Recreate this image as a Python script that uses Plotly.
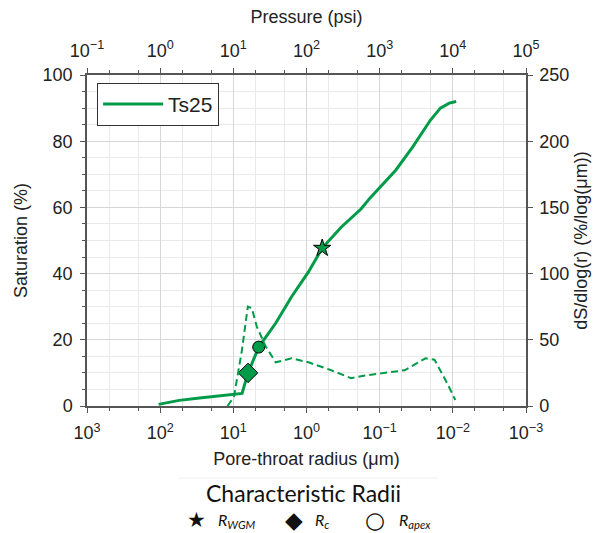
import plotly.graph_objects as go

# ---- data ----
sat_radius = [105, 55, 29, 7.6, 6.3, 4.5, 2.64, 1.6, 0.94, 0.61, 0.336, 0.18, 0.136,
              0.085, 0.06, 0.0355, 0.0202, 0.0148, 0.0112, 0.009]
saturation = [0.5, 1.7, 2.4, 3.8, 10, 17.8, 25, 33, 40.5, 47.7, 54, 59.5, 62.8,
              67.7, 71.3, 78.2, 86.4, 90, 91.5, 92]

dist_radius = [12.0, 9.8, 7.64, 6.34, 5.6, 4.78, 3.61, 2.64, 1.6, 0.94, 0.459, 0.246,
               0.159, 0.085, 0.0455, 0.0377, 0.0236, 0.0178, 0.0119, 0.00925]
dsdlogr = [0, 7, 42, 75, 74, 60, 45, 33, 36, 33, 27, 21, 23, 25, 27, 29.5, 36, 35, 17, 4.5]

r_wgm, s_wgm = 0.61, 47.7
r_c, s_c = 6.3, 10.0
r_apex, s_apex = 4.5, 17.8

radius_exponents = [3, 2, 1, 0, -1, -2, -3]
pressure_exponents = [-1, 0, 1, 2, 3, 4, 5]

PSI_FACTOR = 100.0  # pressure (psi) = 100 / radius (um), matching the two axes
pressure = [PSI_FACTOR / r for r in sat_radius]


def pow_label(e):
    s = str(e).replace("-", "−")
    return "10<sup>%s</sup>" % s


GREEN = "#009b48"
FONT = "Liberation Sans"
AX = "#555555"
GRID = "#d6d6d6"
MINOR = "#e9e9e9"

fig = go.Figure()
fig.add_trace(go.Scatter(x=sat_radius, y=saturation, mode="lines", name="Ts25",
                         line=dict(color=GREEN, width=3), xaxis="x", yaxis="y"))
fig.add_trace(go.Scatter(x=dist_radius, y=dsdlogr, mode="lines", showlegend=False,
                         line=dict(color=GREEN, width=2, dash="7px,4px"), xaxis="x", yaxis="y2"))
fig.add_trace(go.Scatter(x=[r_wgm], y=[s_wgm], mode="markers", showlegend=False,
                         marker=dict(symbol="star", size=13, color=GREEN,
                                     line=dict(color="black", width=1))))
fig.add_trace(go.Scatter(x=[r_c], y=[s_c], mode="markers", showlegend=False,
                         marker=dict(symbol="diamond", size=15, color=GREEN,
                                     line=dict(color="black", width=1))))
fig.add_trace(go.Scatter(x=[r_apex], y=[s_apex], mode="markers", showlegend=False,
                         marker=dict(symbol="circle", size=12, color=GREEN,
                                     line=dict(color="black", width=1))))
# invisible trace to drive the pressure axis
fig.add_trace(go.Scatter(x=pressure, y=saturation, mode="lines", showlegend=False,
                         line=dict(width=0, color="rgba(0,0,0,0)"), hoverinfo="skip",
                         xaxis="x2", yaxis="y"))

tickfont = dict(family=FONT, size=18, color="#222")
titlefont = dict(family=FONT, size=18, color="#222")

fig.update_layout(
    width=600, height=533,
    margin=dict(l=87, r=71, t=75, b=127),
    paper_bgcolor="white", plot_bgcolor="white",
    font=dict(family=FONT, color="#222"),
    showlegend=True,
    legend=dict(x=0.023, y=0.976, xanchor="left", yanchor="top",
                bgcolor="white", bordercolor="#333", borderwidth=1,
                itemwidth=60,
                font=dict(family=FONT, size=21, color="#222")),
    xaxis=dict(type="log", range=[3, -3],
               tickvals=[10.0 ** e for e in radius_exponents],
               ticktext=[pow_label(e) for e in radius_exponents],
               showline=True, linecolor=AX, linewidth=1.5,
               ticks="outside", ticklen=5, tickcolor=AX, ticklabelstandoff=5,
               showgrid=True, gridcolor=GRID, zeroline=False,
               minor=dict(ticks="outside", ticklen=3, tickcolor=AX, showgrid=True, gridcolor=MINOR),
               tickfont=tickfont,
               title=dict(text="Pore-throat radius (μm)", font=titlefont, standoff=10)),
    xaxis2=dict(type="log", range=[-1, 5],
                tickvals=[10.0 ** e for e in pressure_exponents],
                ticktext=[pow_label(e) for e in pressure_exponents],
                overlaying="x", side="top", anchor="y",
                showline=True, linecolor=AX, linewidth=1.5,
                ticks="outside", ticklen=5, tickcolor=AX, ticklabelstandoff=4,
                showgrid=False, zeroline=False,
                minor=dict(ticks="outside", ticklen=3, tickcolor=AX, showgrid=True, gridcolor=MINOR),
                tickfont=tickfont,
                title=dict(text="Pressure (psi)", font=titlefont, standoff=10)),
    yaxis=dict(range=[0, 100], dtick=20, showline=True, linecolor=AX, linewidth=1.5,
               ticks="outside", ticklen=5, tickcolor=AX, ticklabelstandoff=4,
               showgrid=True, gridcolor=GRID, zeroline=False,
               minor=dict(dtick=5, ticks="outside", ticklen=3, tickcolor=AX, showgrid=True, gridcolor=MINOR),
               tickfont=tickfont,
               title=dict(text="Saturation (%)", font=titlefont, standoff=10)),
    yaxis2=dict(range=[0, 250], dtick=50, overlaying="y", side="right", anchor="x",
                showline=True, linecolor=AX, linewidth=1.5,
                ticks="outside", ticklen=5, tickcolor=AX, ticklabelstandoff=3,
                showgrid=False, zeroline=False,
                tickfont=tickfont,
                title=dict(text="dS/dlog(r) (%/log(μm))", font=titlefont, standoff=6)),
)

# bottom "Characteristic Radii" key
def px(xp):
    return (xp - 87) / 442.0

def py(yp):
    return (406 - yp) / 331.0

fig.add_shape(type="line", xref="paper", yref="paper", x0=px(178), x1=px(440),
              y0=py(478), y1=py(478), line=dict(color="#eeeeee", width=1))
fig.add_annotation(xref="paper", yref="paper", x=px(305), y=py(493), yanchor="middle",
                   showarrow=False, text="Characteristic Radii",
                   font=dict(family="Lato, sans-serif", size=23, color="#111"))
row = py(520)
lab_font = dict(family="Lato, sans-serif", size=16, color="#111")
fig.add_annotation(xref="paper", yref="paper", x=px(186), y=row, yanchor="middle", showarrow=False,
                   text="★", font=dict(family="DejaVu Sans", size=21, color="#111"))
fig.add_annotation(xref="paper", yref="paper", x=px(217), y=row, xanchor="left", yanchor="middle",
                   showarrow=False, text="<i>R</i><sub><i>WGM</i></sub>", font=lab_font)
fig.add_annotation(xref="paper", yref="paper", x=px(295), y=row, yanchor="middle", showarrow=False,
                   text="◆", font=dict(family="DejaVu Sans", size=23, color="#111"))
fig.add_annotation(xref="paper", yref="paper", x=px(315), y=row, xanchor="left", yanchor="middle",
                   showarrow=False, text="<i>R</i><sub><i>c</i></sub>", font=lab_font)
fig.add_annotation(xref="paper", yref="paper", x=px(377), y=row, yanchor="middle", showarrow=False,
                   text="○", font=dict(family="DejaVu Sans", size=23, color="#111"))
fig.add_annotation(xref="paper", yref="paper", x=px(399), y=row, xanchor="left", yanchor="middle",
                   showarrow=False, text="<i>R</i><sub><i>apex</i></sub>", font=lab_font)

fig.write_html("out.html")
